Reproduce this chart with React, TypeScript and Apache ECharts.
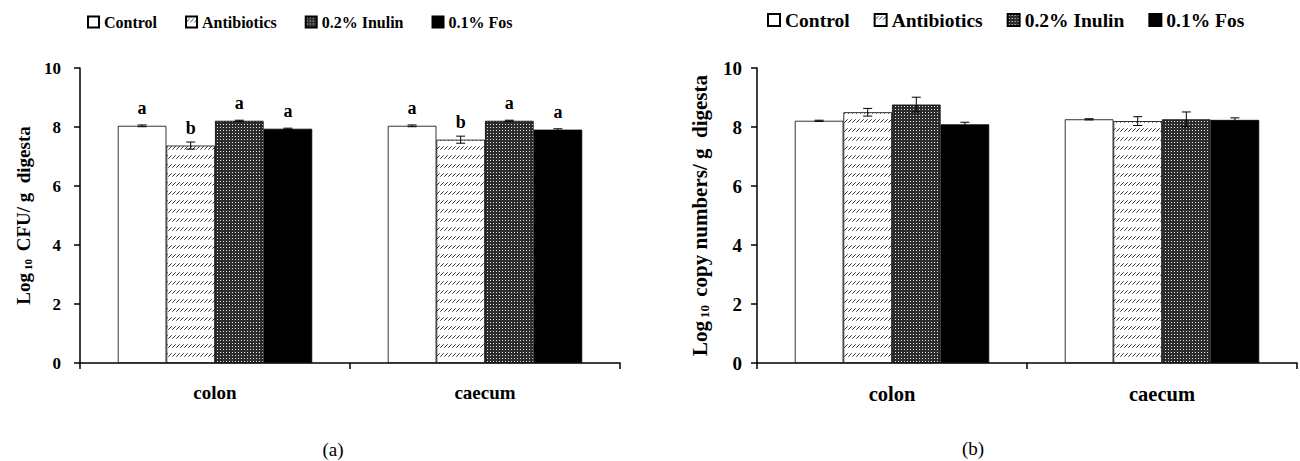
import React, { useEffect, useRef } from "react";
import * as echarts from "echarts";

// ---------- data ----------
const categories = ["colon", "caecum"];
const seriesNames = ["Control", "Antibiotics", "0.2% Inulin", "0.1% Fos"];

// (a) Log10 CFU / g digesta
const cfuControl = [8.04, 8.04];
const cfuAntibiotics = [7.37, 7.57];
const cfuInulin = [8.21, 8.21];
const cfuFos = [7.94, 7.91];
const cfuControlErr = [0.03, 0.03];
const cfuAntibioticsErr = [0.12, 0.12];
const cfuInulinErr = [0.02, 0.02];
const cfuFosErr = [0.02, 0.03];
const cfuControlLetters = ["a", "a"];
const cfuAntibioticsLetters = ["b", "b"];
const cfuInulinLetters = ["a", "a"];
const cfuFosLetters = ["a", "a"];

// (b) Log10 copy numbers / g digesta
const copyControl = [8.21, 8.26];
const copyAntibiotics = [8.5, 8.2];
const copyInulin = [8.76, 8.26];
const copyFos = [8.09, 8.24];
const copyControlErr = [0.02, 0.02];
const copyAntibioticsErr = [0.13, 0.15];
const copyInulinErr = [0.25, 0.25];
const copyFosErr = [0.07, 0.07];

const yMin = 0;
const yMax = 10;
const yInterval = 2;

const SERIF = '"Liberation Serif", "Times New Roman", serif';

function makeHatch(): HTMLCanvasElement {
  const c = document.createElement("canvas");
  c.width = 4;
  c.height = 9;
  const ctx = c.getContext("2d")!;
  ctx.fillStyle = "#ffffff";
  ctx.fillRect(0, 0, 4, 9);
  ctx.strokeStyle = "#333333";
  ctx.lineWidth = 1;
  ctx.beginPath();
  ctx.moveTo(0.3, 5.7);
  ctx.lineTo(3.7, 2.3);
  ctx.stroke();
  return c;
}

function makeDots(): HTMLCanvasElement {
  const c = document.createElement("canvas");
  c.width = 3;
  c.height = 3;
  const ctx = c.getContext("2d")!;
  ctx.fillStyle = "#2c2c2c";
  ctx.fillRect(0, 0, 3, 3);
  ctx.fillStyle = "#e6e6e6";
  ctx.fillRect(1, 1, 1, 1);
  return c;
}

export default function App() {
  const ref = useRef<HTMLDivElement>(null);

  useEffect(() => {
    if (!ref.current) return;
    const chart = echarts.init(ref.current, null, { renderer: "svg" });
    const fills: any[] = [
      "#ffffff",
      { image: makeHatch(), repeat: "repeat" },
      { image: makeDots(), repeat: "repeat" },
      "#000000",
    ];

    const cfuVals = [cfuControl, cfuAntibiotics, cfuInulin, cfuFos];
    const cfuErrs = [cfuControlErr, cfuAntibioticsErr, cfuInulinErr, cfuFosErr];
    const cfuLetters = [cfuControlLetters, cfuAntibioticsLetters, cfuInulinLetters, cfuFosLetters];
    const copyVals = [copyControl, copyAntibiotics, copyInulin, copyFos];
    const copyErrs = [copyControlErr, copyAntibioticsErr, copyInulinErr, copyFosErr];

    const barSeries = (g: number, vals: number[][], letters: string[][] | null, fontSize: number) =>
      seriesNames.map((name, i) => ({
        type: "bar",
        name,
        xAxisIndex: g,
        yAxisIndex: g,
        data: vals[i],
        barGap: "0%",
        barCategoryGap: "28%",
        itemStyle: { color: fills[i], borderColor: "#000", borderWidth: 0.8 },
        label: letters
          ? {
              show: true,
              position: "top",
              distance: 9,
              formatter: (p: any) => letters[i][p.dataIndex],
              fontFamily: SERIF,
              fontWeight: "bold",
              fontSize,
              color: "#000",
            }
          : { show: false },
        z: 2,
      }));

    const errSeries = (g: number, vals: number[][], errs: number[][]) => {
      const data: number[][] = [];
      vals.forEach((arr, s) => arr.forEach((v, c) => data.push([c, s, v, errs[s][c]])));
      return {
        type: "custom",
        xAxisIndex: g,
        yAxisIndex: g,
        encode: { x: 0, y: 2 },
        z: 5,
        silent: true,
        data,
        renderItem: (_params: any, api: any) => {
          const c = api.value(0);
          const s = api.value(1);
          const v = api.value(2);
          const e = api.value(3);
          const center = api.coord([c, v]);
          const bw = (api.size([1, 0])[0] * 0.72) / 4;
          const x = center[0] + (s - 1.5) * bw;
          const top = api.coord([c, v + e])[1];
          const bot = api.coord([c, v - e])[1];
          const cap = 4.5;
          const st = { stroke: "#000", lineWidth: 1 };
          return {
            type: "group",
            children: [
              { type: "line", shape: { x1: x, y1: top, x2: x, y2: bot }, style: st },
              { type: "line", shape: { x1: x - cap, y1: top, x2: x + cap, y2: top }, style: st },
              { type: "line", shape: { x1: x - cap, y1: bot, x2: x + cap, y2: bot }, style: st },
            ],
          };
        },
      };
    };

    const xAxis = (g: number, fontSize: number) => ({
      type: "category",
      gridIndex: g,
      data: categories,
      axisLine: { show: true, lineStyle: { color: "#000", width: 1.5 } },
      axisTick: { show: true, length: 6, lineStyle: { color: "#000", width: 1.5 } },
      axisLabel: {
        margin: 20,
        fontFamily: SERIF,
        fontWeight: "bold",
        fontSize,
        color: "#000",
      },
    });

    const yAxis = (
      g: number,
      fontSize: number,
      labelMargin: number,
      nameText: string,
      nameSize: number,
      nameGap: number
    ) => ({
      type: "value",
      gridIndex: g,
      min: yMin,
      max: yMax,
      interval: yInterval,
      splitLine: { show: false },
      axisLine: { show: true, lineStyle: { color: "#000", width: 1.5 } },
      axisTick: { show: true, length: 6, lineStyle: { color: "#000", width: 1.5 } },
      axisLabel: {
        margin: labelMargin,
        fontFamily: SERIF,
        fontWeight: "bold",
        fontSize,
        color: "#000",
      },
      name: "{b|Log}{s|10}{b|" + nameText + "}",
      nameLocation: "middle",
      nameRotate: 90,
      nameGap,
      nameTextStyle: {
        rich: {
          b: { fontFamily: SERIF, fontWeight: "bold", fontSize: nameSize, color: "#000" },
          s: {
            fontFamily: SERIF,
            fontWeight: "bold",
            fontSize: Math.round(nameSize * 0.6),
            color: "#000",
            padding: [Math.round(nameSize * 0.45), 3, 0, 3],
          },
        },
      },
    });

    const legend = (left: number, top: number, size: number, iconSize: number, gap: number) => ({
      left,
      top,
      data: seriesNames,
      icon: "rect",
      itemWidth: iconSize,
      itemHeight: iconSize,
      itemGap: gap,
      selectedMode: false,
      textStyle: { fontFamily: SERIF, fontWeight: "bold", fontSize: size, color: "#000" },
    });

    chart.setOption({
      animation: false,
      backgroundColor: "#ffffff",
      grid: [
        { left: 80, top: 68, width: 540, bottom: 98, containLabel: false },
        { left: 757, top: 68, width: 540, bottom: 98, containLabel: false },
      ],
      legend: [legend(82, 9, 16, 11, 28), legend(762, 5, 19.5, 12, 24)],
      xAxis: [xAxis(0, 19), xAxis(1, 20.5)],
      yAxis: [
        yAxis(0, 17, 19, " CFU/ g  digesta", 19, 47),
        yAxis(1, 19, 15, " copy numbers/ g  digesta", 21, 46),
      ],
      series: [
        ...barSeries(0, cfuVals, cfuLetters, 18),
        errSeries(0, cfuVals, cfuErrs),
        ...barSeries(1, copyVals, null, 18),
        errSeries(1, copyVals, copyErrs),
      ],
      graphic: [
        {
          type: "text",
          x: 333,
          y: 449,
          style: {
            text: "(a)",
            fontFamily: SERIF,
            fontSize: 19,
            fill: "#000",
            align: "center",
            verticalAlign: "middle",
          },
        },
        {
          type: "text",
          x: 973,
          y: 448,
          style: {
            text: "(b)",
            fontFamily: SERIF,
            fontSize: 19,
            fill: "#000",
            align: "center",
            verticalAlign: "middle",
          },
        },
      ],
    });

    return () => chart.dispose();
  }, []);

  return (
    <div
      ref={ref}
      style={{ position: "fixed", left: 0, top: 0, width: 1300, height: 461, background: "#fff" }}
    />
  );
}
